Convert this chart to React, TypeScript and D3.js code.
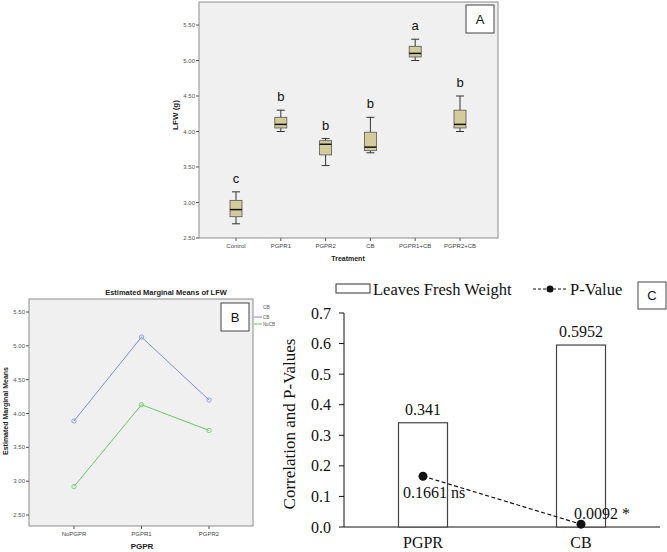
import React from "react";
import * as d3 from "d3";

// Panel A data (box plots)
const treatments = ["Control", "PGPR1", "PGPR2", "CB", "PGPR1+CB", "PGPR2+CB"];
const boxMin = [2.7, 4.0, 3.52, 3.7, 5.0, 4.0];
const boxQ1 = [2.8, 4.05, 3.67, 3.73, 5.05, 4.05];
const boxMedian = [2.9, 4.1, 3.82, 3.78, 5.1, 4.1];
const boxQ3 = [3.03, 4.2, 3.87, 3.99, 5.2, 4.3];
const boxMax = [3.15, 4.3, 3.9, 4.2, 5.3, 4.5];
const sigLetters = ["c", "b", "b", "b", "a", "b"];
const ticksA = [2.5, 3.0, 3.5, 4.0, 4.5, 5.0, 5.5];

// Panel B data (estimated marginal means)
const pgprLevels = ["NoPGPR", "PGPR1", "PGPR2"];
const meansCB = [3.89, 5.13, 4.2];
const meansNoCB = [2.92, 4.13, 3.75];
const ticksB = [2.5, 3.0, 3.5, 4.0, 4.5, 5.0, 5.5];

// Panel C data
const factorsC = ["PGPR", "CB"];
const correlations = [0.341, 0.5952];
const corrLabels = ["0.341", "0.5952"];
const pValues = [0.1661, 0.0092];
const pLabels = ["0.1661 ns", "0.0092 *"];
const ticksC = [0, 0.1, 0.2, 0.3, 0.4, 0.5, 0.6, 0.7];

const sans = "'Liberation Sans', Arial, sans-serif";
const serif = "'Liberation Serif', 'Times New Roman', serif";

export default function App() {
  // ---- Panel A scales
  const yA = d3.scaleLinear().domain([2.5, 5.5]).range([238, 25]);
  const xA = d3.scalePoint<string>().domain(treatments).range([236, 460]);
  const bw = 12;

  // ---- Panel B scales
  const yB = d3.scaleLinear().domain([2.5, 5.5]).range([515, 312]);
  const xB = d3.scalePoint<string>().domain(pgprLevels).range([74, 209]);
  const lineB = d3
    .line<number>()
    .x((_, i) => xB(pgprLevels[i]) as number)
    .y((d) => yB(d));

  // ---- Panel C scales
  const yC = d3.scaleLinear().domain([0, 0.7]).range([527, 313]);
  const xC = d3.scalePoint<string>().domain(factorsC).range([344, 660]).padding(0.5);
  const barW = 49;
  const lineC = d3
    .line<number>()
    .x((_, i) => xC(factorsC[i]) as number)
    .y((d) => yC(d));

  return (
    <svg
      width={667}
      height={552}
      style={{ position: "absolute", left: 0, top: 0, background: "#fff" }}
    >
      {/* ================= Panel A ================= */}
      <rect x={199} y={2} width={299} height={236} fill="#f0f0f0" stroke="#8c8c8c" strokeWidth={1} />
      {ticksA.map((t) => (
        <g key={"ta" + t}>
          <line x1={196} x2={199} y1={yA(t)} y2={yA(t)} stroke="#555" />
          <text x={195} y={yA(t) + 2} fontSize={6} fill="#555" textAnchor="end" fontFamily={sans}>
            {t.toFixed(2)}
          </text>
        </g>
      ))}
      {treatments.map((c) => (
        <g key={"xa" + c}>
          <line x1={xA(c)} x2={xA(c)} y1={238} y2={241} stroke="#555" />
          <text x={xA(c)} y={248} fontSize={6} fill="#444" textAnchor="middle" fontFamily={sans}>
            {c}
          </text>
        </g>
      ))}
      <text x={348} y={261} fontSize={7} fontWeight="bold" textAnchor="middle" fontFamily={sans} fill="#222">
        Treatment
      </text>
      <text
        transform={`translate(178,115) rotate(-90)`}
        fontSize={8}
        fontWeight="bold"
        textAnchor="middle"
        fontFamily={sans}
        fill="#222"
      >
        LFW (g)
      </text>
      {treatments.map((c, i) => {
        const cx = xA(c) as number;
        return (
          <g key={"box" + c}>
            <line x1={cx} x2={cx} y1={yA(boxMax[i])} y2={yA(boxQ3[i])} stroke="#333" strokeWidth={1} />
            <line x1={cx} x2={cx} y1={yA(boxQ1[i])} y2={yA(boxMin[i])} stroke="#333" strokeWidth={1} />
            <line x1={cx - 4} x2={cx + 4} y1={yA(boxMax[i])} y2={yA(boxMax[i])} stroke="#333" />
            <line x1={cx - 4} x2={cx + 4} y1={yA(boxMin[i])} y2={yA(boxMin[i])} stroke="#333" />
            <rect
              x={cx - bw / 2}
              y={yA(boxQ3[i])}
              width={bw}
              height={yA(boxQ1[i]) - yA(boxQ3[i])}
              fill="#d4cc98"
              stroke="#555"
              strokeWidth={0.8}
            />
            <line
              x1={cx - bw / 2}
              x2={cx + bw / 2}
              y1={yA(boxMedian[i])}
              y2={yA(boxMedian[i])}
              stroke="#111"
              strokeWidth={1.5}
            />
            <text x={cx} y={yA(boxMax[i]) - 9} fontSize={13} textAnchor="middle" fontFamily={sans} fill="#111">
              {sigLetters[i]}
            </text>
          </g>
        );
      })}
      <rect x={466} y={5} width={28} height={28} fill="#fff" stroke="#444" strokeWidth={1} />
      <text x={480} y={24} fontSize={13} textAnchor="middle" fontFamily={sans} fill="#111">
        A
      </text>

      {/* ================= Panel B ================= */}
      <text x={166} y={295} fontSize={7.5} fontWeight="bold" textAnchor="middle" fontFamily={sans} fill="#222">
        Estimated Marginal Means of LFW
      </text>
      <rect x={29} y={299} width={224} height={227} fill="#f0f0f0" stroke="#8c8c8c" strokeWidth={1} />
      {ticksB.map((t) => (
        <g key={"tb" + t}>
          <line x1={26} x2={29} y1={yB(t)} y2={yB(t)} stroke="#555" />
          <text x={25} y={yB(t) + 2} fontSize={6} fill="#555" textAnchor="end" fontFamily={sans}>
            {t.toFixed(2)}
          </text>
        </g>
      ))}
      {pgprLevels.map((c) => (
        <g key={"xb" + c}>
          <line x1={xB(c)} x2={xB(c)} y1={526} y2={529} stroke="#555" />
          <text x={xB(c)} y={536} fontSize={6} fill="#444" textAnchor="middle" fontFamily={sans}>
            {c}
          </text>
        </g>
      ))}
      <text x={142} y={549} fontSize={8} fontWeight="bold" textAnchor="middle" fontFamily={sans} fill="#222">
        PGPR
      </text>
      <text
        transform={`translate(8,411) rotate(-90)`}
        fontSize={7}
        fontWeight="bold"
        textAnchor="middle"
        fontFamily={sans}
        fill="#222"
      >
        Estimated Marginal Means
      </text>
      <path d={lineB(meansCB) ?? ""} fill="none" stroke="#7b8fd6" strokeWidth={1} />
      <path d={lineB(meansNoCB) ?? ""} fill="none" stroke="#62cc62" strokeWidth={1} />
      {meansCB.map((v, i) => (
        <circle key={"cb" + i} cx={xB(pgprLevels[i])} cy={yB(v)} r={2.2} fill="none" stroke="#7b8fd6" strokeWidth={0.8} />
      ))}
      {meansNoCB.map((v, i) => (
        <circle key={"nc" + i} cx={xB(pgprLevels[i])} cy={yB(v)} r={2.2} fill="none" stroke="#62cc62" strokeWidth={0.8} />
      ))}
      <rect x={221} y={303} width={28} height={28} fill="#fff" stroke="#444" strokeWidth={1} />
      <text x={235} y={322} fontSize={13} textAnchor="middle" fontFamily={sans} fill="#111">
        B
      </text>
      {/* legend B */}
      <text x={263} y={309} fontSize={5} fill="#555" fontFamily={sans}>
        CB
      </text>
      <line x1={254} x2={262} y1={317} y2={317} stroke="#7b8fd6" />
      <text x={263} y={319} fontSize={4.5} fill="#555" fontFamily={sans}>
        CB
      </text>
      <line x1={254} x2={262} y1={324} y2={324} stroke="#62cc62" />
      <text x={263} y={326} fontSize={4.5} fill="#555" fontFamily={sans}>
        NoCB
      </text>

      {/* ================= Panel C ================= */}
      {/* legend */}
      <rect x={336} y={284} width={34} height={9} fill="#fff" stroke="#333" strokeWidth={1} />
      <text x={373} y={295} fontSize={16.5} fontFamily={serif} fill="#111">
        Leaves Fresh Weight
      </text>
      <line x1={533} x2={568} y1={289} y2={289} stroke="#111" strokeDasharray="3,2" />
      <circle cx={550} cy={289} r={3.5} fill="#111" />
      <text x={570} y={295} fontSize={16.5} fontFamily={serif} fill="#111">
        P-Value
      </text>
      <rect x={638} y={282} width={28} height={27} fill="#fff" stroke="#444" strokeWidth={1} />
      <text x={652} y={300} fontSize={13} textAnchor="middle" fontFamily={sans} fill="#111">
        C
      </text>

      {/* axes */}
      <line x1={344} x2={344} y1={yC(0.7)} y2={yC(0)} stroke="#111" />
      <line x1={344} x2={660} y1={yC(0)} y2={yC(0)} stroke="#111" />
      {ticksC.map((t) => (
        <g key={"tc" + t}>
          <line x1={339} x2={344} y1={yC(t)} y2={yC(t)} stroke="#111" />
          <text x={331} y={yC(t) + 5.5} fontSize={16} textAnchor="end" fontFamily={serif} fill="#111">
            {t.toFixed(1)}
          </text>
        </g>
      ))}
      {factorsC.map((c) => (
        <text key={"xc" + c} x={xC(c)} y={548} fontSize={16} textAnchor="middle" fontFamily={serif} fill="#111">
          {c}
        </text>
      ))}
      <text
        transform={`translate(295,424) rotate(-90)`}
        fontSize={17}
        textAnchor="middle"
        fontFamily={serif}
        fill="#111"
      >
        Correlation and P-Values
      </text>

      {/* bars */}
      {factorsC.map((c, i) => {
        const cx = xC(c) as number;
        return (
          <g key={"bar" + c}>
            <rect
              x={cx - barW / 2}
              y={yC(correlations[i])}
              width={barW}
              height={yC(0) - yC(correlations[i])}
              fill="#fff"
              stroke="#444"
              strokeWidth={1.2}
            />
            <text x={cx} y={yC(correlations[i]) - 8} fontSize={16} textAnchor="middle" fontFamily={serif} fill="#111">
              {corrLabels[i]}
            </text>
          </g>
        );
      })}
      <path d={lineC(pValues) ?? ""} fill="none" stroke="#111" strokeWidth={1.2} strokeDasharray="4,2.5" />
      {factorsC.map((c, i) => (
        <circle key={"pv" + c} cx={xC(c)} cy={yC(pValues[i])} r={4.5} fill="#111" />
      ))}
      <text x={403} y={498} fontSize={16} fontFamily={serif} fill="#111">
        {pLabels[0]}
      </text>
      <text x={574} y={519} fontSize={16} fontFamily={serif} fill="#111">
        {pLabels[1]}
      </text>
    </svg>
  );
}
